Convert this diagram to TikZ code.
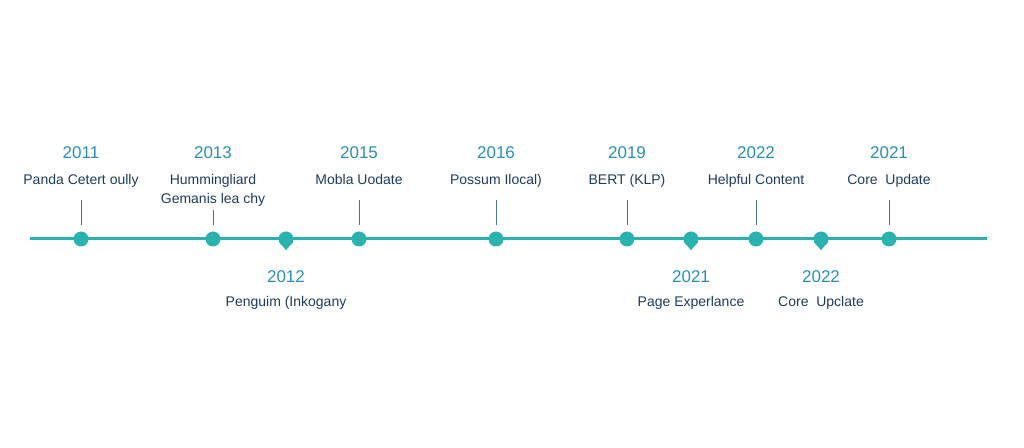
\documentclass[tikz,border=0pt]{standalone}
\usepackage{fontspec}
\setmainfont{Liberation Sans}
\usetikzlibrary{positioning}
\definecolor{tealline}{HTML}{2AB3AE}
\definecolor{yearblue}{HTML}{2A8FB5}
\definecolor{navytext}{HTML}{1F3B5C}
\definecolor{stemgrey}{HTML}{4F6F86}
\tikzset{
	x=1pt, y=1pt, % one unit is one pixel of the picture
	dot/.style={circle, fill=tealline, minimum size=15pt, inner sep=0pt}, % round marks on the line
	pinmark/.style={circle, fill=tealline, minimum size=15pt, inner sep=0pt}, % drop marks, tip added below
	year/.style={anchor=base, text=yearblue, font=\fontsize{17}{20}\selectfont},
	event/.style={anchor=base, text=navytext, align=center, font=\fontsize{14}{19}\selectfont, inner sep=2pt, text depth=3pt},
	stem/.style={draw=stemgrey, line width=0.8pt, shorten <=10pt, shorten >=6pt},
}

\begin{document}
\begin{tikzpicture}
	\useasboundingbox (0,0) rectangle (1024,447);
	\draw[tealline, line width=3pt] (30,208) -- (987,208);
	
	% marks on the line
	\node[dot] (d1) at (81,208) {};
	\node[dot] (d2) at (213,208) {};
	\node[dot] (d3) at (359,208) {};
	\node[dot] (d4) at (496,208) {};
	\node[dot] (d5) at (627,208) {};
	\node[dot] (d6) at (756,208) {};
	\node[dot] (d7) at (889,208) {};
	\node[pinmark] (p1) at (286,208) {};
	\node[pinmark] (p2) at (691,208) {};
	\node[pinmark] (p3) at (821,208) {};
	\foreach \p in {p1,p2,p3}
		\fill[tealline] (\p.200) -- ([yshift=-3.5pt]\p.south) -- (\p.340) -- cycle;
	
	% above the line
	\node[year] (y1) at (81,288) {2011};
	\node[event] (e1) at (81,262) {Panda Cetert oully};
	\node[year] (y2) at (213,288) {2013};
	\node[event] (e2) at (213,243) {Hummingliard\\Gemanis lea chy};
	\node[year] (y3) at (359,288) {2015};
	\node[event] (e3) at (359,262) {Mobla Uodate};
	\node[year] (y4) at (496,288) {2016};
	\node[event] (e4) at (496,262) {Possum Ilocal)};
	\node[year] (y5) at (627,288) {2019};
	\node[event] (e5) at (627,262) {BERT (KLP)};
	\node[year] (y6) at (756,288) {2022};
	\node[event] (e6) at (756,262) {Helpful Content};
	\node[year] (y7) at (889,288) {2021};
	\node[event] (e7) at (889,262) {Core\ \ Update};
	
	\foreach \i in {1,3,4,5,6,7}
		\draw[stem] (e\i.south) -- (d\i.north);
	\draw[stem, shorten <=1pt] (e2.south) -- (d2.north);
	
	% below the line
	\node[year] (y8) at (286,164) {2012};
	\node[event] (e8) at (286,140) {Penguim (Inkogany};
	\node[year] (y9) at (691,164) {2021};
	\node[event] (e9) at (691,140) {Page Experlance};
	\node[year] (y10) at (821,164) {2022};
	\node[event] (e10) at (821,140) {Core\ \ Upclate};
\end{tikzpicture}
\end{document}
